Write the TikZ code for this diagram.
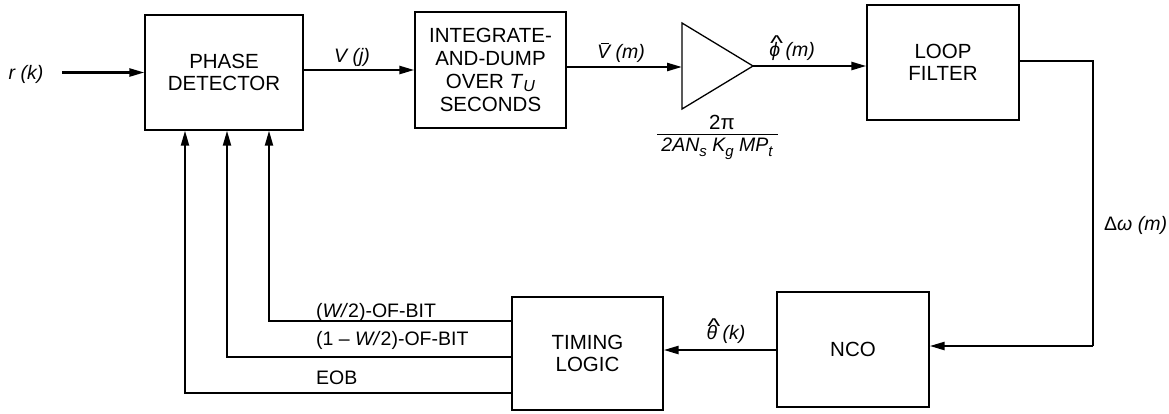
\documentclass[tikz,border=0pt]{standalone}
\usepackage{fontspec}
\setmainfont{Liberation Sans}
\usetikzlibrary{arrows.meta,calc}
\newcommand\barit[1]{{\ooalign{\textit{#1}\cr\hidewidth\kern3pt\raisebox{14.5pt}{\rule{8pt}{1pt}}\hidewidth\cr}}}
\newcommand\hatit[1]{{\ooalign{\textit{#1}\cr\hidewidth\kern3pt\raisebox{6pt}{\scalebox{1.4}[1.1]{\textasciicircum}}\hidewidth\cr}}}
\begin{document}
\begin{tikzpicture}[x=1pt,y=-1pt,
  font=\fontsize{20.5}{22}\selectfont,
  box/.style={draw,line width=1.3pt,rectangle,align=center,inner sep=0pt},
  arr/.style={line width=2.4pt,-{Triangle[length=15pt,width=8pt]}},
  wire/.style={line width=2.4pt},
  fb/.style={line width=2pt,-{Triangle[length=15pt,width=8pt]}},
  lbl/.style={inner sep=0pt,font=\fontsize{19.5}{22}\selectfont\itshape}
]
\useasboundingbox (0,0) rectangle (1169,413);
% blocks
\node[box,minimum width=158pt,minimum height=115pt] (pd) at (224,72.5) {PHASE\\DETECTOR};
\node[box,minimum width=151pt,minimum height=116pt,font=\fontsize{20.5}{23}\selectfont] (int) at (490.5,70) {INTEGRATE-\\AND-DUMP\\OVER \textit{T}\raisebox{-0.3ex}{\textit{\fontsize{16}{16}\selectfont U}}\\SECONDS};
\node[box,minimum width=152pt,minimum height=115pt] (lf) at (943,62.5) {LOOP\\FILTER};
\node[box,minimum width=152pt,minimum height=115pt] (nco) at (853,349.5) {NCO};
\node[box,minimum width=151pt,minimum height=113pt] (tl) at (587.5,353.5) {TIMING\\LOGIC};
% amplifier
\coordinate (ampin) at (682,67);
\coordinate (amptip) at (753,66);
\draw[line width=1.3pt] (682,23) -- (amptip) -- (682,109) -- cycle;
\node[inner sep=0pt] (gnum) at (722,122) {2π};
\node[inner sep=0pt] (gden) at (717,149) {\fontsize{19.5}{22}\selectfont\itshape 2AN\raisebox{-0.5ex}{\fontsize{15}{15}\selectfont s} K\raisebox{-0.5ex}{\fontsize{15}{15}\selectfont g} MP\raisebox{-0.5ex}{\fontsize{15}{15}\selectfont t}};
\draw[line width=1pt] (657,134) -- (778,134);
% input
\node[lbl] (rk) at (26,74) {r (k)};
\coordinate (rkstart) at (62,72.5);
\draw[arr] (rkstart) -- (pd.west);
% forward path
\draw[arr] (pd.east |- 0,70) -- (int.west |- 0,70);
\node[lbl] (vj) at (352,57) {V (j)};
\draw[arr] (int.east |- ampin) -- (ampin);
\node[lbl] (vm) at (621,53) {\barit{V} (m)};
\draw[arr] (amptip) -- (lf.west |- amptip);
\node[lbl] (phim) at (792,51) {\hatit{ϕ} (m)};
% loop filter to NCO
\coordinate (c1) at (1093,61);
\coordinate (c2) at (1093,346);
\draw[wire] (lf.east |- c1) -- (c1) -- (c2);
\draw[arr] (c2) -- (nco.east |- c2);
\node[lbl,anchor=west] (dw) at (1104,225) {\upshape Δ\itshape ω (m)};
% NCO to timing logic
\draw[arr] (nco.west |- 0,350) -- (tl.east |- 0,350);
\node[lbl] (th) at (726,334) {\hatit{θ} (k)};
% feedback lines
\coordinate (f1) at (269,321);
\coordinate (f2) at (227,357);
\coordinate (f3) at (185,393);
\draw[fb] (tl.west |- f1) -- (f1) -- (f1 |- pd.south);
\draw[fb] (tl.west |- f2) -- (f2) -- (f2 |- pd.south);
\draw[fb] (tl.west |- f3) -- (f3) -- (f3 |- pd.south);
\node[inner sep=0pt,anchor=west,font=\fontsize{19.5}{22}\selectfont] (l1) at (316,312) {(\textit{W/}2)-OF-BIT};
\node[inner sep=0pt,anchor=west,font=\fontsize{19.5}{22}\selectfont] (l2) at (316,340) {(1 – \textit{W/}2)-OF-BIT};
\node[inner sep=0pt,anchor=west,font=\fontsize{19.5}{22}\selectfont] (l3) at (316,378) {EOB};
\end{tikzpicture}
\end{document}
